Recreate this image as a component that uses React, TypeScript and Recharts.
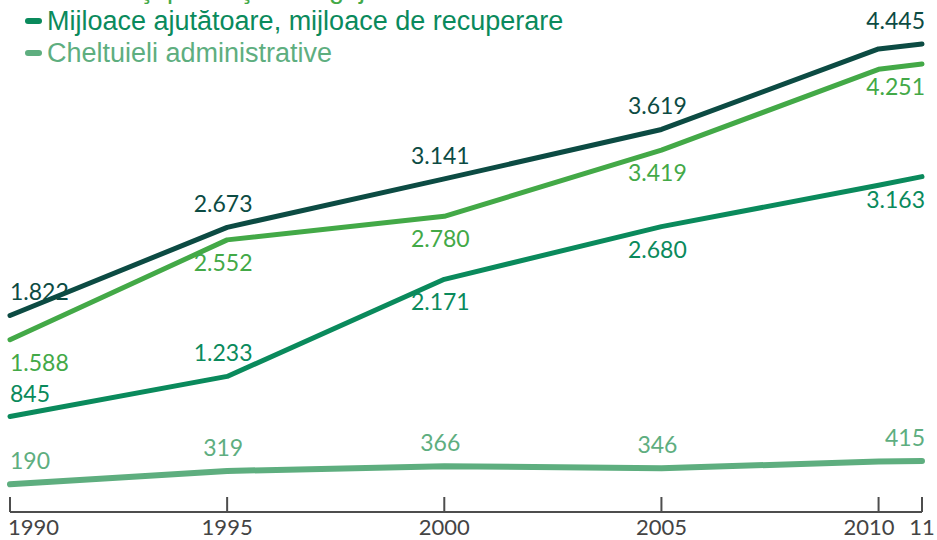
import { LineChart, Line, XAxis, YAxis, LabelList } from 'recharts'

// years on the x axis (2010 has no value label in the original)
const years = [1990, 1995, 2000, 2005, 2010, 2011]
const tickYears = [1990, 1995, 2000, 2005, 2010, 2011]
const tickText = ['1990', '1995', '2000', '2005', '2010', '11']

// series values (thousands)
const totalValues = [1822, 2673, 3141, 3619, 4397, 4445]
const careValues = [1588, 2552, 2780, 3419, 4200, 4251]
const aidValues = [845, 1233, 2171, 2680, 3080, 3163]
const adminValues = [190, 319, 366, 346, 410, 415]

const legendNames = [
  'Doctori şi prestaţii de îngrijire',
  'Mijloace ajutătoare, mijloace de recuperare',
  'Cheltuieli administrative',
]

const COLORS = {
  total: '#0c4b43',
  care: '#43a947',
  aid: '#0a8a5c',
  admin: '#5eae7f',
}

const legendColors = [COLORS.care, COLORS.aid, COLORS.admin]

// where each value label sits relative to its point
const totalPlace = ['up', 'up', 'up', 'up', 'up', 'up']
const carePlace = ['down', 'down', 'down', 'down', 'down', 'down']
const aidPlace = ['up', 'up', 'down', 'down', 'down', 'down']
const adminPlace = ['up', 'up', 'up', 'up', 'up', 'up']

const data = years.map((year, i) => ({
  year,
  total: totalValues[i],
  care: careValues[i],
  aid: aidValues[i],
  admin: adminValues[i],
}))

const fmt = (v: number) => (v >= 1000 ? `${Math.floor(v / 1000)}.${String(v % 1000).padStart(3, '0')}` : String(v))

function makeLabel(color: string, place: string[]) {
  return (props: any) => {
    const { x, y, value, index } = props
    if (years[index] === 2010) return null
    const last = index === years.length - 1
    const anchor = index === 0 ? 'start' : last ? 'end' : 'middle'
    const dx = index === 0 ? 0 : last ? 3 : -4
    const below = place[index] === 'down'
    return (
      <text
        x={x + dx}
        y={below ? y + 31 : y - 15}
        textAnchor={anchor}
        fill={color}
        fontSize={23}
        fontFamily="Lato, 'Open Sans', sans-serif"
      >
        {fmt(value)}
      </text>
    )
  }
}

function YearTick(props: any) {
  const { x, y, payload } = props
  const i = tickYears.indexOf(payload.value)
  const first = i === 0
  const is2010 = payload.value === 2010
  return (
    <g>
      <line x1={x} y1={y - 15} x2={x} y2={y} stroke="#4d4d4d" strokeWidth={2} />
      <text
        x={first ? x - 2 : is2010 ? x + 16 : x}
        y={y + 23}
        textAnchor={first ? 'start' : is2010 ? 'end' : 'middle'}
        fill="#444"
        fontSize={22}
        fontFamily="Lato, 'Open Sans', sans-serif"
      >
        {tickText[i]}
      </text>
    </g>
  )
}

export default function App() {
  return (
    <div style={{ position: 'relative', width: 937, height: 540, overflow: 'hidden', background: '#fff' }}>
      <style>{'body{margin:0}'}</style>
      <LineChart width={937} height={540} data={data} margin={{ top: 4, right: 15, left: 10, bottom: 0 }}>
        <XAxis
          dataKey="year"
          type="number"
          domain={[1990, 2011]}
          ticks={tickYears}
          tick={<YearTick />}
          tickLine={false}
          tickSize={0}
          tickMargin={0}
          height={28}
          axisLine={{ stroke: '#4d4d4d', strokeWidth: 2 }}
          interval={0}
        />
        <YAxis hide domain={[-77, 4831]} />
        <Line dataKey="total" stroke={COLORS.total} strokeWidth={5} dot={false} strokeLinecap="round" strokeLinejoin="round" isAnimationActive={false}>
          <LabelList dataKey="total" content={makeLabel(COLORS.total, totalPlace)} />
        </Line>
        <Line dataKey="care" stroke={COLORS.care} strokeWidth={5} dot={false} strokeLinecap="round" strokeLinejoin="round" isAnimationActive={false}>
          <LabelList dataKey="care" content={makeLabel(COLORS.care, carePlace)} />
        </Line>
        <Line dataKey="aid" stroke={COLORS.aid} strokeWidth={5} dot={false} strokeLinecap="round" strokeLinejoin="round" isAnimationActive={false}>
          <LabelList dataKey="aid" content={makeLabel(COLORS.aid, aidPlace)} />
        </Line>
        <Line dataKey="admin" stroke={COLORS.admin} strokeWidth={6} dot={false} strokeLinecap="round" strokeLinejoin="round" isAnimationActive={false}>
          <LabelList dataKey="admin" content={makeLabel(COLORS.admin, adminPlace)} />
        </Line>
      </LineChart>
      <div style={{ position: 'absolute', left: 25, top: -27, fontFamily: "'Liberation Sans', Arial, sans-serif", fontSize: 27 }}>
        {legendNames.map((name, i) => (
          <div key={name} style={{ height: 32, lineHeight: '32px', color: legendColors[i], whiteSpace: 'nowrap', display: 'flex', alignItems: 'center' }}>
            <span style={{ display: 'inline-block', width: 17, height: 6, borderRadius: 3, background: legendColors[i], marginRight: 5 }} />
            {name}
          </div>
        ))}
      </div>
    </div>
  )
}
